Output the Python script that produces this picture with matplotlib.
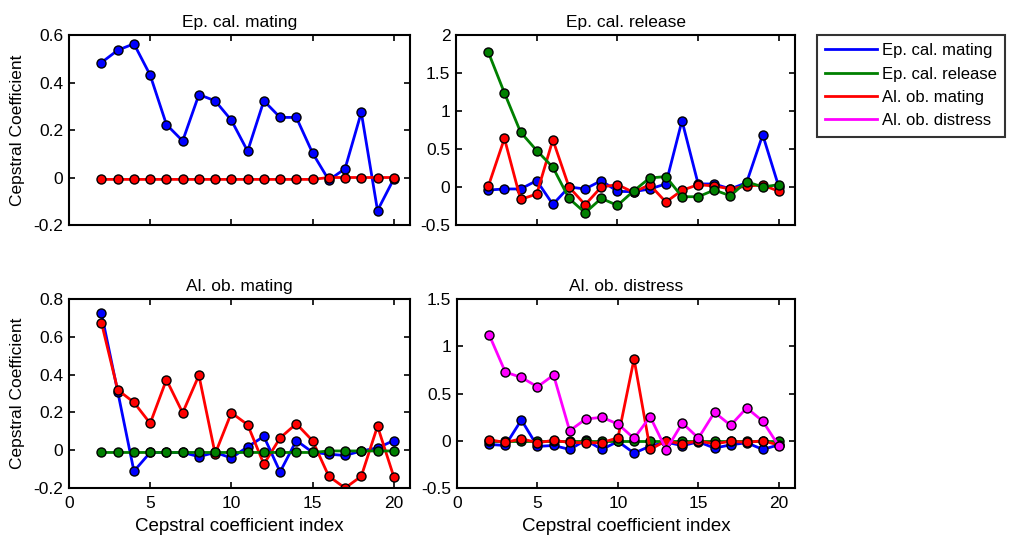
import numpy as np
import matplotlib
matplotlib.use("Agg")
import matplotlib.pyplot as plt
from matplotlib.lines import Line2D

plt.rcParams['font.family'] = ['Liberation Sans', 'DejaVu Sans']

# cepstral coefficient indices 2..20
idx = np.arange(2, 21)

# panel 1: Ep. cal. mating
p1_ep_mating = [0.484, 0.536, 0.563, 0.431, 0.223, 0.154, 0.349, 0.323, 0.241, 0.111,
                0.323, 0.253, 0.253, 0.103, -0.011, 0.037, 0.274, -0.139, -0.006]
p1_al_mating = [-0.008] * 14 + [0.0] * 5

# panel 2: Ep. cal. release
p2_ep_mating = [-0.040, -0.026, -0.026, 0.084, -0.229, 0.0, -0.026, 0.084, -0.057, -0.062,
                -0.026, 0.040, 0.872, 0.040, 0.040, -0.026, 0.057, 0.687, 0.0]
p2_ep_release = [1.775, 1.238, 0.722, 0.480, 0.260, -0.150, -0.339, -0.150, -0.242, -0.053,
                 0.119, 0.137, -0.128, -0.128, -0.040, -0.115, 0.070, 0.0, 0.031]
p2_al_mating = [0.009, 0.639, -0.163, -0.093, 0.621, 0.0, -0.233, 0.0, 0.031, -0.070,
                0.031, -0.198, -0.044, 0.031, 0.013, -0.026, 0.013, 0.026, -0.057]

# panel 3: Al. ob. mating
p3_ep_mating = [0.724, 0.310, -0.111, -0.012, -0.012, -0.012, -0.034, -0.012, -0.041, 0.018,
                0.073, -0.115, 0.051, -0.011, -0.021, -0.028, -0.004, 0.012, 0.051]
p3_al_mating = [0.674, 0.319, 0.253, 0.142, 0.373, 0.198, 0.396, -0.019, 0.198, 0.135,
                -0.074, 0.065, 0.140, 0.050, -0.138, -0.200, -0.138, 0.127, -0.140]
p3_ep_release = [-0.012] * 14 + [-0.004] * 5

# panel 4: Al. ob. distress
p4_ep_mating = [-0.039, -0.050, 0.220, -0.060, -0.050, -0.092, 0.007, -0.092, -0.007, -0.131,
                -0.057, -0.014, -0.053, -0.011, -0.078, -0.043, -0.021, -0.092, -0.043]
p4_ep_release = [-0.004] * 19
p4_al_mating = [0.011, -0.018, 0.021, -0.021, 0.004, -0.018, -0.021, -0.021, 0.032, 0.865,
                -0.092, 0.0, -0.035, 0.0, -0.035, -0.004, -0.018, 0.0, -0.046]
p4_al_distress = [1.121, 0.727, 0.670, 0.571, 0.695, 0.106, 0.230, 0.248, 0.177, 0.025,
                  0.255, -0.096, 0.188, 0.028, 0.301, 0.163, 0.348, 0.206, -0.057]

names = ['Ep. cal. mating', 'Ep. cal. release', 'Al. ob. mating', 'Al. ob. distress']
colors = {'Ep. cal. mating': (0, 0, 1), 'Ep. cal. release': (0, 0.5, 0),
          'Al. ob. mating': (1, 0, 0), 'Al. ob. distress': (1, 0, 1)}

panels = [
    ('Ep. cal. mating', [('Ep. cal. mating', p1_ep_mating), ('Al. ob. mating', p1_al_mating)],
     (-0.2, 0.6), [-0.2, 0, 0.2, 0.4, 0.6]),
    ('Ep. cal. release', [('Ep. cal. mating', p2_ep_mating), ('Al. ob. mating', p2_al_mating),
                          ('Ep. cal. release', p2_ep_release)],
     (-0.5, 2), [-0.5, 0, 0.5, 1, 1.5, 2]),
    ('Al. ob. mating', [('Ep. cal. mating', p3_ep_mating), ('Al. ob. mating', p3_al_mating),
                        ('Ep. cal. release', p3_ep_release)],
     (-0.2, 0.8), [-0.2, 0, 0.2, 0.4, 0.6, 0.8]),
    ('Al. ob. distress', [('Ep. cal. mating', p4_ep_mating), ('Ep. cal. release', p4_ep_release),
                          ('Al. ob. mating', p4_al_mating), ('Al. ob. distress', p4_al_distress)],
     (-0.5, 1.5), [-0.5, 0, 0.5, 1, 1.5]),
]

W, H = 1009, 539
fig = plt.figure(figsize=(W / 100, H / 100), dpi=100)

# axes boxes in pixels: left, top, right, bottom
boxes = [(69, 35, 410, 225), (456, 35, 795, 225),
         (69, 299, 410, 488), (457, 299, 795, 488)]

for i, (title, series, ylim, yticks) in enumerate(panels):
    l, t, r, b = boxes[i]
    ax = fig.add_axes([l / W, 1 - b / H, (r - l) / W, (b - t) / H])
    for name, vals in series:
        ax.plot(idx, vals, '-o', color=colors[name], lw=2, ms=6.5,
                mfc=colors[name], mec='black', mew=1.0)
    ax.set_xlim(0, 21)
    ax.set_ylim(*ylim)
    ax.set_xticks([0, 5, 10, 15, 20])
    ax.set_yticks(yticks)
    ax.set_yticklabels(['%g' % v for v in yticks])
    ax.tick_params(direction='in', top=True, right=True, length=4, width=1.2,
                   labelsize=12.5)
    ax.tick_params(axis='x', pad=6)
    ax.tick_params(axis='y', pad=4)
    for sp in ax.spines.values():
        sp.set_linewidth(1.5)
    ax.set_title(title, fontsize=12.5, pad=6)
    if i < 2:
        ax.set_xticklabels([])
    else:
        ax.set_xlabel('Cepstral coefficient index', fontsize=13.5, labelpad=5)
    if i % 2 == 0:
        ax.set_ylabel('Cepstral Coefficient', fontsize=12.5, labelpad=6)

handles = [Line2D([0], [0], color=colors[n], lw=2) for n in names]
leg = fig.legend(handles, names, loc='upper left',
                 bbox_to_anchor=(817 / W, 1 - 35 / H), fontsize=12,
                 frameon=True, fancybox=False, edgecolor='black',
                 handlelength=3.1, handletextpad=0.3, borderpad=0.5,
                 labelspacing=0.5, borderaxespad=0)
leg.get_frame().set_linewidth(1.5)

fig.savefig('out.png', dpi=100)
